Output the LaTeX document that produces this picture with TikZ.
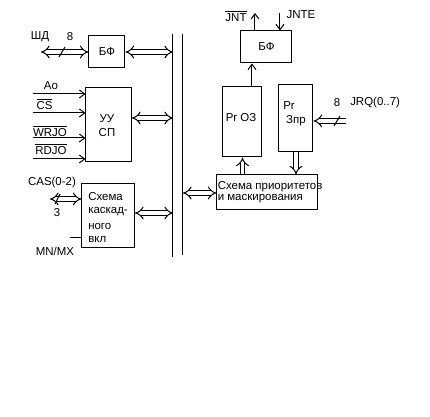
\documentclass[tikz,border=0pt]{standalone}
\usepackage{fontspec}
\setmainfont{Liberation Sans}
\usetikzlibrary{arrows.meta}
\newcommand\ovl[1]{\leavevmode\vbox{\hrule height 0.5pt\kern 1.2pt\hbox{#1}}}
\begin{document}
\begin{tikzpicture}[x=0.75pt,y=-0.75pt,
  font=\fontsize{8.6pt}{10pt}\selectfont,
  box/.style={draw,line width=0.75pt,inner sep=0pt},
  txt/.style={inner sep=0pt},
  ln/.style={line width=0.75pt},
  sa/.style={ln,-{Straight Barb[length=4pt,width=6pt]}},
  dbl/.style={line width=0.75pt,double,double distance=2.6pt,{Implies[scale=1.5]}-{Implies[scale=1.5]}},
  dblr/.style={line width=0.75pt,double,double distance=2.6pt,-{Implies[scale=1.5]}}]
\useasboundingbox (0,0) rectangle (430,417);
% bus
\coordinate (b1t) at (173,34); \coordinate (b1b) at (173,257);
\coordinate (b2t) at (183,34); \coordinate (b2b) at (183,255);
\draw[ln] (b1t) -- (b1b);
\draw[ln] (b2t) -- (b2b);
% boxes
\node[box,minimum width=27pt,minimum height=24pt] (bf1) at (107,52) {БФ};
\node[box,minimum width=34.5pt,minimum height=55.5pt] (uu) at (109,125) {};
\node[txt] at (107,119) {УУ};
\node[txt] at (107,133) {СП};
\node[box,minimum width=39.75pt,minimum height=48pt] (kas) at (108.5,216) {};
\node[txt,anchor=west] at (88,197) {Схема};
\node[txt,anchor=west] at (88,212) {каскад-};
\node[txt,anchor=west] at (88,226) {ного};
\node[txt,anchor=west] at (88,240) {вкл};
\node[box,minimum width=75.75pt,minimum height=26.25pt] (sch) at (267.5,192.5) {};
\node[txt,anchor=west] at (217.5,187) {Схема приоритетов};
\node[txt,anchor=west] at (217.5,199) {и маскирования};
\node[box,minimum width=29.25pt,minimum height=52.5pt] (proz) at (242.5,122) {};
\node[txt] at (241,118) {Pr ОЗ};
\node[box,minimum width=25.5pt,minimum height=50.25pt] (przpr) at (296,118.5) {};
\node[txt] at (289,106) {Pr};
\node[txt] at (296,121) {Зпр};
\node[box,minimum width=38.25pt,minimum height=24pt] (bf2) at (266.5,47) {БФ};
% left side
\coordinate (shd) at (41,52);
\draw[dbl] (shd) -- (shd -| bf1.west);
\draw[ln] (59,57) -- (65,47);
\node[txt] at (40,37) {ШД};
\node[txt] at (70,37) {8};
\draw[dbl] (bf1.east) -- (bf1.east -| b1t);
\coordinate (uur) at (132,118);
\draw[dbl] (uur) -- (uur -| b1t);
\coordinate (ao) at (33,94); \coordinate (cs) at (33,113);
\coordinate (wr) at (33,138); \coordinate (rd) at (33,159);
\draw[sa] (ao) -- (ao -| uu.west);
\draw[sa] (cs) -- (cs -| uu.west);
\draw[sa] (wr) -- (wr -| uu.west);
\draw[sa] (rd) -- (rd -| uu.west);
\node[txt] at (51,86) {Ao};
\node[txt] at (44.5,104) {\ovl{CS}};
\node[txt] at (50,131) {\ovl{WRJO}};
\node[txt] at (51,149) {\ovl{RDJO}};
\coordinate (kasr) at (135,213);
\draw[dbl] (kasr) -- (kasr -| b1t);
\coordinate (cas) at (50,199);
\draw[dbl] (cas) -- (cas -| kas.west);
\draw[ln] (55,204) -- (60,194);
\node[txt] at (52,183) {CAS(0-2)};
\node[txt] at (57,213) {3};
\coordinate (mn) at (70,238);
\draw[ln] (mn) -- (mn -| kas.west);
\node[txt] at (55,251) {MN/MX};
% right side
\coordinate (schl) at (183,193);
\draw[dbl] (schl) -- (schl -| sch.west);
\draw[dblr] (proz.south |- sch.north) -- (proz.south);
\draw[dblr] (przpr.south) -- (przpr.south |- sch.north);
\coordinate (jrq) at (346,121);
\draw[dblr] (jrq) -- (jrq -| przpr.east);
\draw[ln] (334,126) -- (340,116);
\node[txt] at (337,103) {8};
\node[txt,anchor=west] at (350,103) {JRQ(0..7)};
\coordinate (pb) at (252,0);
\draw[sa] (proz.north -| pb) -- (bf2.south -| pb);
\coordinate (jnt) at (255,13);
\draw[sa] (bf2.north -| jnt) -- (jnt);
\coordinate (jnte) at (280,13);
\draw[sa] (jnte) -- (jnte |- bf2.north);
\node[txt] at (236,16) {\ovl{JNT}};
\node[txt] at (301,15) {JNTE};
\end{tikzpicture}
\end{document}
